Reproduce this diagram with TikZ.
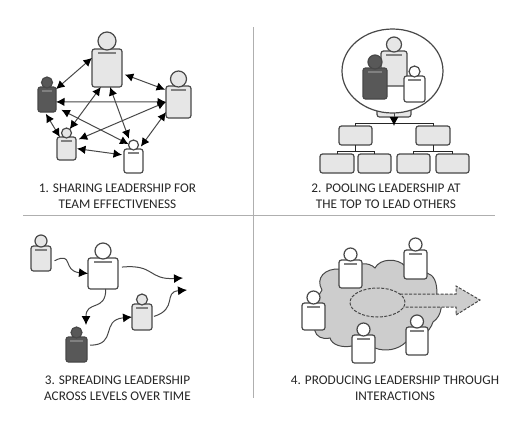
\documentclass[tikz,border=0pt]{standalone}
\usepackage{fontspec}
\setmainfont{Carlito}
\usepackage{xcolor}
\usepackage{tikz}
\usetikzlibrary{shapes.geometric, arrows.meta, positioning}
\definecolor{figline}{RGB}{72, 72, 72}
\definecolor{figlight}{RGB}{230, 230, 230}
\definecolor{figdark}{RGB}{88, 88, 88}
\definecolor{figcloud}{RGB}{205, 205, 205}
\definecolor{figrule}{RGB}{175, 175, 175}
\tikzset{
    personbody/.style={draw=figline, line width=1.2pt, rounded corners=2.5pt, inner sep=0pt, outer sep=0pt},
    personhead/.style={circle, draw=figline, line width=1.2pt, inner sep=0pt, outer sep=0pt},
    personbar/.style={fill=black!50, inner sep=0pt, outer sep=0pt, minimum height=1.5pt},
    duplex/.style={{Latex[length=8.5pt,width=8.5pt,color=black]}-{Latex[length=8.5pt,width=8.5pt,color=black]}, color=figline, line width=1.0pt},
    oneway/.style={-{Latex[length=9pt,width=9pt,color=black]}, color=figline, line width=1.0pt},
    treebox/.style={draw=figline, fill=figlight, line width=1.2pt, rounded corners=2.5pt, inner sep=0pt, outer sep=0pt},
    treeline/.style={color=black!85, line width=1.0pt},
    dashline/.style={draw=figline, line width=1.0pt, dash pattern=on 3pt off 1.5pt},
    caption/.style={align=center, font=\fontsize{13.25}{16}\selectfont, color=black!85},
    panelrule/.style={color=figrule, line width=1.5pt}
}
% name, body centre, width, height, head diameter, fill
\newcommand{\personfig}[6]{
    \node[personbody, fill=#6, minimum width=#3pt, minimum height=#4pt] (#1) at #2 {};
    \node[personhead, fill=#6, minimum size=#5pt, above=-1pt of #1] (#1head) {};
    \node[personbar, minimum width=0.6*#3pt, below=3pt of #1.north] (#1bar) {};
}

\begin{document}
\begin{tikzpicture}[x=1pt, y=-1pt, >=Latex]
    \useasboundingbox (0,0) rectangle (523,432);

    \coordinate (RuleTop) at (253.5,27);
    \coordinate (RuleBot) at (253.5,398);
    \coordinate (RuleLeft) at (23,215.5);
    \coordinate (RuleRight) at (495,215.5);
    \draw[panelrule] (RuleTop) -- (RuleBot);
    \draw[panelrule] (RuleLeft) -- (RuleRight);

    \personfig{share1}{(107,68)}{30}{38}{18}{figlight}
    \personfig{share2}{(178.5,102)}{25}{32}{16}{figlight}
    \personfig{share3}{(47,99.5)}{18}{25}{11}{figdark}
    \personfig{share4}{(66.5,148.5)}{19}{23}{10}{figlight}
    \personfig{share5}{(133.5,161)}{19}{24}{10}{white}
    \draw[duplex, shorten <=0pt] (share1.146) -- (share3.49);
    \draw[duplex, shorten <=3pt, shorten >=1pt] (share1.-20) -- (share2.136);
    \draw[duplex] (share1.-108) -- (share4head.50);
    \draw[duplex, shorten >=3pt] (share1.-81) -- (share5head.135);
    \draw[duplex] (share3.-15) -- (share2.west);
    \draw[duplex, shorten <=2pt] (share3.-100) -- (share4.120);
    \draw[duplex, shorten <=6pt] (share3.-40) -- (share5head.170);
    \draw[duplex, shorten >=3pt] (share2.west) -- (share4.40);
    \draw[duplex, shorten >=3pt] (share2.-141) -- (share5.65);
    \draw[duplex, shorten <=1pt, shorten >=2pt] (share4.east) -- (share5.148);
    \node[caption] (cap1) at (117.5,196) {1. SHARING LEADERSHIP FOR\\TEAM EFFECTIVENESS};

    \node[treebox, fill=figlight, minimum width=34pt, minimum height=10pt] (poolbase) at (394,112) {};
    \node[ellipse, draw=figline, fill=white, line width=1.2pt, inner sep=0pt, outer sep=0pt, minimum width=101pt, minimum height=84pt] (pool) at (392.5,71) {};
    \personfig{pool1}{(394,68.5)}{26}{35}{15}{figlight}
    \personfig{pool2}{(375,83.5)}{24}{31}{14}{figdark}
    \personfig{pool3}{(414.5,89)}{21}{26}{11}{white}

    \node[treebox, minimum width=33pt, minimum height=19pt] (mid1) at (355.5,135.5) {};
    \node[treebox, minimum width=34pt, minimum height=19pt] (mid2) at (433,135.5) {};
    \node[treebox, minimum width=34pt, minimum height=19pt] (leaf1) at (337,163.5) {};
    \node[treebox, minimum width=33pt, minimum height=19pt] (leaf2) at (374.5,163.5) {};
    \node[treebox, minimum width=33pt, minimum height=19pt] (leaf3) at (413.5,163.5) {};
    \node[treebox, minimum width=33pt, minimum height=19pt] (leaf4) at (452.5,163.5) {};
    \coordinate (TreeTop) at (394,123);
    \coordinate (Fork1) at (355.5,151);
    \coordinate (Fork2) at (433,151);
    \draw[treeline] (TreeTop) -| (mid1.north);
    \draw[treeline] (TreeTop) -| (mid2.north);
    \draw[treeline] (mid1.south) -- (Fork1);
    \draw[treeline] (mid2.south) -- (Fork2);
    \draw[treeline] (Fork1) -| (leaf1.north);
    \draw[treeline] (Fork1) -| (leaf2.north);
    \draw[treeline] (Fork2) -| (leaf3.north);
    \draw[treeline] (Fork2) -| (leaf4.north);
    \draw[oneway] (pool.south -| TreeTop) -- (394,126);
    \node[caption] (cap2) at (386,196) {2. POOLING LEADERSHIP AT\\THE TOP TO LEAD OTHERS};

    \personfig{spread1}{(41,258.5)}{20}{25}{12}{figlight}
    \personfig{spread2}{(103,273.5)}{30}{31}{16}{white}
    \personfig{spread3}{(76.5,349.5)}{21}{25}{11}{figdark}
    \personfig{spread4}{(142,317)}{20}{26}{11}{figlight}
    \coordinate (SpreadEnd1) at (183,278);
    \coordinate (SpreadEnd2) at (187,290);
    \coordinate (SpreadEnd3) at (86,325);
    \draw[oneway, shorten <=4pt] (spread1.-22) .. controls (74,251) and (62,271) .. (spread2.west);
    \draw[oneway, shorten <=4pt] (spread2.22) .. controls (155,264) and (148,280) .. (SpreadEnd1);
    \draw[oneway, shorten <=0pt] (spread2.-80) .. controls (106,312) and (86,300) .. (SpreadEnd3);
    \draw[oneway, shorten <=3pt] (spread3.22) .. controls (118,345) and (100,320) .. (spread4.west);
    \draw[oneway, shorten <=2pt] (spread4.east) .. controls (178,309) and (163,292) .. (SpreadEnd2);
    \node[caption] (cap3) at (117.5,388) {3. SPREADING LEADERSHIP\\ACROSS LEVELS OVER TIME};

    \draw[fill=figcloud, draw=figline, line width=1.0pt] (322,290)
        .. controls (315,278) and (325,268) .. (340,269)
        .. controls (345,262) and (356,262) .. (362,264)
        .. controls (367,263) and (372,265) .. (375,268)
        .. controls (380,258) and (398,258) .. (405,266)
        .. controls (412,266) and (420,268) .. (427,273)
        .. controls (434,275) and (437,282) .. (437,294)
        .. controls (444,302) and (442,316) .. (433,322)
        .. controls (430,332) and (418,342) .. (406,342)
        .. controls (398,350) and (385,352) .. (375,348)
        .. controls (367,350) and (358,349) .. (352,346)
        .. controls (342,348) and (332,345) .. (330,338)
        .. controls (322,340) and (316,336) .. (315,331)
        .. controls (310,320) and (315,300) .. (322,290);
    \fill[figcloud] (400,294) -- (456,294) -- (456,286) -- (480,300) -- (456,315) -- (456,307) -- (400,307) -- cycle;
    \draw[dashline] (400,294) -- (456,294) -- (456,286) -- (480,300) -- (456,315) -- (456,307) -- (400,307);
    \node[ellipse, dashline, fill=figcloud, inner sep=0pt, outer sep=0pt, minimum width=55pt, minimum height=29pt] (focus) at (377.5,302.5) {};
    \personfig{prod1}{(350.5,274)}{23}{28}{13}{white}
    \personfig{prod2}{(415.5,264.5)}{23}{29}{13}{white}
    \personfig{prod3}{(313.5,316.5)}{23}{27}{13}{white}
    \personfig{prod4}{(363.5,349)}{23}{28}{13}{white}
    \personfig{prod5}{(417,341)}{22}{28}{13}{white}
    \node[caption] (cap4) at (395,388) {4. PRODUCING LEADERSHIP THROUGH\\INTERACTIONS};
\end{tikzpicture}
\end{document}
